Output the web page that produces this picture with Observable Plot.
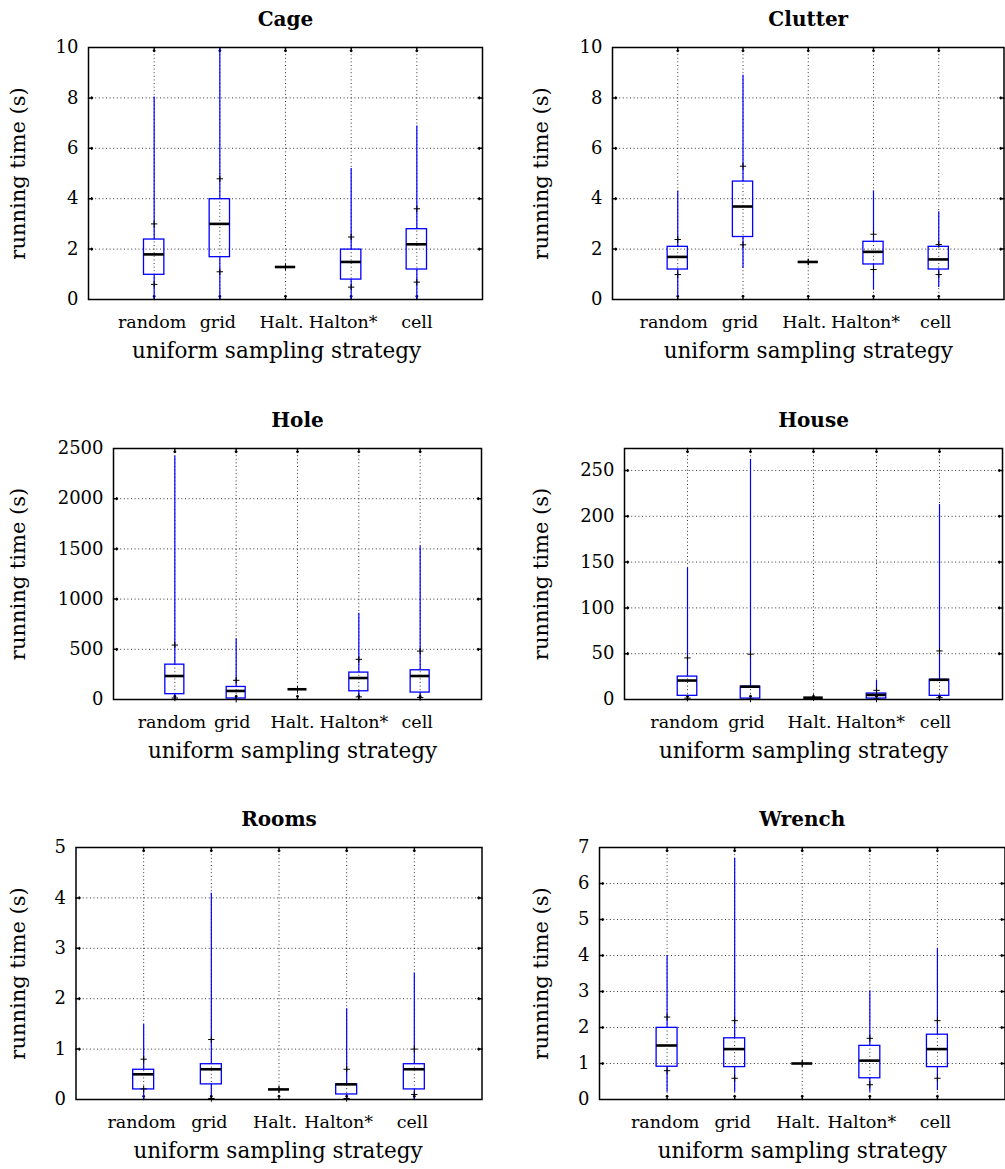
<!DOCTYPE html>
<html>
<head>
<meta charset="utf-8">
<script src="https://cdn.jsdelivr.net/npm/d3@7"></script>
<script src="https://cdn.jsdelivr.net/npm/@observablehq/plot@0.6"></script>
<style>
  html, body { margin: 0; padding: 0; background: #fff; }
  #root { position: relative; width: 1005px; height: 1169px; overflow: hidden; background: #fff; }
  #root svg { position: absolute; overflow: visible; }
</style>
</head>
<body>
<div id="root"></div>
<script>
// ---------- data ----------
const categories = ["random", "grid", "Halt.", "Halton*", "cell"];
const yLabel = "running time (s)";
const xLabel = "uniform sampling strategy";

// each panel: whisker ends (min, max), quartiles (q1, med, q3), "+" markers (lo, hi)
const cage = {
  min: [0, 0, 1.29, 0, 0],
  q1:  [0.98, 1.68, 1.29, 0.79, 1.19],
  med: [1.79, 3.0, 1.29, 1.49, 2.19],
  q3:  [2.38, 3.98, 1.29, 1.98, 2.79],
  max: [8.04, 10, 1.29, 5.2, 6.88],
  lo:  [0.6, 1.1, 1.29, 0.49, 0.69],
  hi:  [3.0, 4.79, 1.29, 2.48, 3.6]
};
const clutter = {
  min: [0.1, 1.23, 1.49, 0.37, 0.48],
  q1:  [1.19, 2.48, 1.49, 1.39, 1.19],
  med: [1.69, 3.69, 1.49, 1.89, 1.59],
  q3:  [2.09, 4.68, 1.49, 2.29, 2.09],
  max: [4.31, 8.9, 1.49, 4.31, 3.48],
  lo:  [0.99, 2.17, 1.49, 1.19, 0.99],
  hi:  [2.38, 5.29, 1.49, 2.59, 2.18]
};
const hole = {
  min: [0, 0, 102, 26, 0],
  q1:  [53, 10, 102, 82, 69],
  med: [234, 85, 102, 214, 234],
  q3:  [347, 125, 102, 268, 291],
  max: [2424, 605, 102, 859, 1528],
  lo:  [15, 2, 102, 26, 20],
  hi:  [542, 191, 102, 400, 482]
};
const house = {
  min: [0, 0, 2, 0, 0],
  q1:  [4, 1, 2, 1, 4],
  med: [20.7, 14, 2, 5, 21.5],
  q3:  [25, 14, 2, 6.5, 21.5],
  max: [143.7, 262, 2, 21, 212.8],
  lo:  [1.5, 0.5, 2, 0.5, 2],
  hi:  [45.4, 49.5, 2, 10, 53]
};
const rooms = {
  min: [0, 0, 0.2, 0, 0],
  q1:  [0.2, 0.3, 0.2, 0.1, 0.2],
  med: [0.5, 0.6, 0.2, 0.3, 0.6],
  q3:  [0.59, 0.7, 0.2, 0.3, 0.7],
  max: [1.49, 4.09, 0.2, 1.8, 2.51],
  lo:  [0.21, 0.02, 0.2, 0.02, 0.1],
  hi:  [0.8, 1.19, 0.2, 0.6, 1.0]
};
const wrench = {
  min: [0.2, 0.2, 1.0, 0.2, 0.25],
  q1:  [0.91, 0.9, 1.0, 0.59, 0.9],
  med: [1.5, 1.4, 1.0, 1.08, 1.4],
  q3:  [1.99, 1.7, 1.0, 1.49, 1.8],
  max: [4.0, 6.7, 1.0, 3.02, 4.19],
  lo:  [0.8, 0.59, 1.0, 0.41, 0.59],
  hi:  [2.29, 2.19, 1.0, 1.7, 2.19]
};

const cageTicks    = [0, 2, 4, 6, 8, 10];
const clutterTicks = [0, 2, 4, 6, 8, 10];
const holeTicks    = [0, 500, 1000, 1500, 2000, 2500];
const houseTicks   = [0, 50, 100, 150, 200, 250];
const roomsTicks   = [0, 1, 2, 3, 4, 5];
const wrenchTicks  = [0, 1, 2, 3, 4, 5, 6, 7];

// ---------- layout (styles / positions) ----------
const panels = [
  {name: "Cage",    stats: cage,    ticks: cageTicks,    yMax: 10,   col: 0, row: 0, frame: [88, 482, 47, 299],       shift: [-2, -2, -4, -8, 0],  xdx: -9},
  {name: "Clutter", stats: clutter, ticks: clutterTicks, yMax: 10,   col: 1, row: 0, frame: [612, 1003.5, 47, 299],   shift: [-4, -3, -4, -8, -3], xdx: 0},
  {name: "Hole",    stats: hole,    ticks: holeTicks,    yMax: 2500, col: 0, row: 1, frame: [113, 481, 448, 699],     shift: [-3, -4, -5, -5, -3], xdx: -5},
  {name: "House",   stats: house,   ticks: houseTicks,   yMax: 274,  col: 1, row: 1, frame: [624, 1002, 448, 699],    shift: [-3, -4, -4, -6, -4], xdx: -10},
  {name: "Rooms",   stats: rooms,   ticks: roomsTicks,   yMax: 5,    col: 0, row: 2, frame: [75.5, 481.5, 847, 1099], shift: [-2, -2, -4, -8, -2], xdx: -1},
  {name: "Wrench",  stats: wrench,  ticks: wrenchTicks,  yMax: 7,    col: 1, row: 2, frame: [599, 1004.5, 847, 1099], shift: [-2, -2, -4, -8, -2], xdx: 0}
];

const FONT = "'DejaVu Serif', 'Liberation Serif', serif";
const BLUE = "#0000ff";
const root = document.getElementById("root");

for (const p of panels) {
  const x0 = p.col ? 500 : 0, w = p.col ? 505 : 500;
  const y0 = [0, 390, 780][p.row], h = p.row === 2 ? 389 : 390;
  const [L, R, T, B] = p.frame;
  const s = p.stats;
  const rows = categories.map((c, i) => ({
    i: i + 1, c,
    min: s.min[i], q1: s.q1[i], med: s.med[i], q3: s.q3[i], max: s.max[i], lo: s.lo[i], hi: s.hi[i]
  }));
  const half = 0.155;
  const grid = {stroke: "#000", strokeDasharray: "1,2.6", strokeWidth: 1, strokeOpacity: 0.8};
  const innerTicks = p.ticks.filter(t => t > 0 && t < p.yMax);
  const labelX = p.col ? 547 : 24;

  const marks = [
    Plot.ruleY(innerTicks, {y: d => d, ...grid}),
    Plot.ruleX(rows, {x: "i", ...grid}),
    // inward ticks
    Plot.vector(innerTicks, {y: d => d, frameAnchor: "left", rotate: 90, length: 4, anchor: "start", stroke: "#000"}),
    Plot.vector(innerTicks, {y: d => d, frameAnchor: "right", rotate: -90, length: 4, anchor: "start", stroke: "#000"}),
    Plot.vector(rows, {x: "i", frameAnchor: "bottom", rotate: 0, length: 4, anchor: "start", stroke: "#000"}),
    Plot.vector(rows, {x: "i", frameAnchor: "top", rotate: 180, length: 4, anchor: "start", stroke: "#000"}),
    // whiskers
    Plot.ruleX(rows, {x: "i", y1: "min", y2: "q1", stroke: BLUE, strokeWidth: 1.2}),
    Plot.ruleX(rows, {x: "i", y1: "q3", y2: "max", stroke: BLUE, strokeWidth: 1.2}),
    // boxes
    Plot.rect(rows, {x1: d => d.i - half, x2: d => d.i + half, y1: "q1", y2: "q3", stroke: BLUE, fill: "none", strokeWidth: 1.3}),
    Plot.ruleY(rows, {y: "med", x1: d => d.i - half, x2: d => d.i + half, stroke: "#000", strokeWidth: 2.6}),
    // markers
    Plot.dot(rows, {x: "i", y: "lo", symbol: "plus", r: 2.2, stroke: "#000", strokeWidth: 1}),
    Plot.dot(rows, {x: "i", y: "hi", symbol: "plus", r: 2.2, stroke: "#000", strokeWidth: 1}),
    Plot.frame({stroke: "#000", strokeWidth: 1.5}),
    // y tick labels
    Plot.text(p.ticks, {y: d => d, text: d => String(d), frameAnchor: "left", dx: -10, textAnchor: "end", fontSize: 18, fill: "#000"}),
    // category labels
    ...categories.map((c, i) => Plot.text([c], {x: i + 1, text: d => d, frameAnchor: "bottom", dy: 16, dx: p.shift[i], lineAnchor: "top", textAnchor: "middle", fontSize: 17.5, fill: "#000"})),
    // title
    Plot.text([p.name], {text: d => d, frameAnchor: "top", dy: -22, lineAnchor: "bottom", textAnchor: "middle", fontSize: 20, fontWeight: "bold", fill: "#000"}),
    // x label
    Plot.text([xLabel], {text: d => d, frameAnchor: "bottom", dy: 58, dx: p.xdx, lineAnchor: "bottom", textAnchor: "middle", fontSize: 21.5, fill: "#000"}),
    // y label
    Plot.text([yLabel], {text: d => d, frameAnchor: "left", dx: labelX - L, rotate: -90, lineAnchor: "bottom", textAnchor: "middle", fontSize: 21, fill: "#000"})
  ];

  const svg = Plot.plot({
    width: w, height: h,
    marginLeft: L - x0, marginRight: x0 + w - R, marginTop: T - y0, marginBottom: y0 + h - B,
    x: {domain: [0, 6], axis: null},
    y: {domain: [0, p.yMax], axis: null},
    style: {fontFamily: FONT, fontSize: "18px", color: "#000", background: "transparent"},
    marks
  });
  svg.style.left = x0 + "px";
  svg.style.top = y0 + "px";
  root.appendChild(svg);
}
</script>
</body>
</html>
